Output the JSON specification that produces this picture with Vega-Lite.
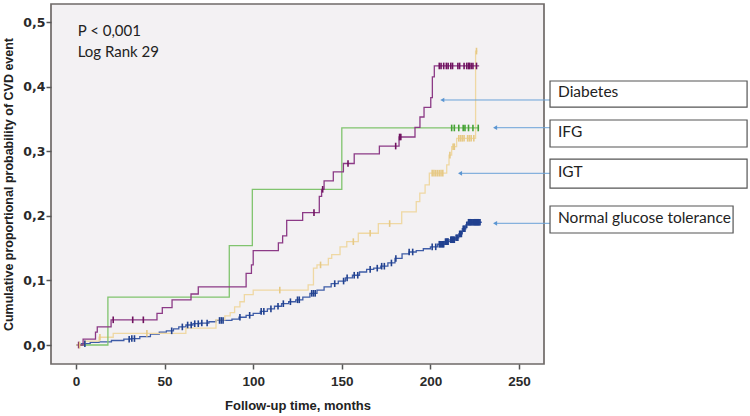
{
  "$schema": "https://vega.github.io/schema/vega-lite/v6.json",
  "width": 493,
  "height": 360,
  "autosize": {"type": "none"},
  "padding": {"left": 51, "top": 4, "right": 206, "bottom": 52},
  "background": "#ffffff",
  "config": {
    "view": {"stroke": "#6f6a68", "strokeWidth": 1.7, "fill": "#f3f1f3"},
    "axis": {"grid": false, "domain": false, "tickColor": "#555", "tickWidth": 1.5, "labelColor": "#2a2a2a", "titleColor": "#222"}
  },
  "datasets": {
    "curves": [
      {"group": "Normal glucose tolerance", "t": 0, "p": 0},
      {"group": "Normal glucose tolerance", "t": 3, "p": 0.002},
      {"group": "Normal glucose tolerance", "t": 8, "p": 0.004},
      {"group": "Normal glucose tolerance", "t": 13, "p": 0.005},
      {"group": "Normal glucose tolerance", "t": 20, "p": 0.007},
      {"group": "Normal glucose tolerance", "t": 27, "p": 0.009},
      {"group": "Normal glucose tolerance", "t": 31, "p": 0.010},
      {"group": "Normal glucose tolerance", "t": 36, "p": 0.013},
      {"group": "Normal glucose tolerance", "t": 42, "p": 0.017},
      {"group": "Normal glucose tolerance", "t": 47, "p": 0.020},
      {"group": "Normal glucose tolerance", "t": 51, "p": 0.022},
      {"group": "Normal glucose tolerance", "t": 55, "p": 0.025},
      {"group": "Normal glucose tolerance", "t": 58, "p": 0.028},
      {"group": "Normal glucose tolerance", "t": 62, "p": 0.031},
      {"group": "Normal glucose tolerance", "t": 66, "p": 0.033},
      {"group": "Normal glucose tolerance", "t": 70, "p": 0.034},
      {"group": "Normal glucose tolerance", "t": 75, "p": 0.036},
      {"group": "Normal glucose tolerance", "t": 79, "p": 0.038},
      {"group": "Normal glucose tolerance", "t": 88, "p": 0.040},
      {"group": "Normal glucose tolerance", "t": 92, "p": 0.043},
      {"group": "Normal glucose tolerance", "t": 96, "p": 0.046},
      {"group": "Normal glucose tolerance", "t": 100, "p": 0.049},
      {"group": "Normal glucose tolerance", "t": 104, "p": 0.052},
      {"group": "Normal glucose tolerance", "t": 108, "p": 0.056},
      {"group": "Normal glucose tolerance", "t": 112, "p": 0.060},
      {"group": "Normal glucose tolerance", "t": 116, "p": 0.064},
      {"group": "Normal glucose tolerance", "t": 120, "p": 0.067},
      {"group": "Normal glucose tolerance", "t": 124, "p": 0.070},
      {"group": "Normal glucose tolerance", "t": 128, "p": 0.074},
      {"group": "Normal glucose tolerance", "t": 132, "p": 0.080},
      {"group": "Normal glucose tolerance", "t": 136, "p": 0.085},
      {"group": "Normal glucose tolerance", "t": 140, "p": 0.090},
      {"group": "Normal glucose tolerance", "t": 144, "p": 0.095},
      {"group": "Normal glucose tolerance", "t": 148, "p": 0.099},
      {"group": "Normal glucose tolerance", "t": 152, "p": 0.104},
      {"group": "Normal glucose tolerance", "t": 156, "p": 0.108},
      {"group": "Normal glucose tolerance", "t": 160, "p": 0.113},
      {"group": "Normal glucose tolerance", "t": 164, "p": 0.117},
      {"group": "Normal glucose tolerance", "t": 168, "p": 0.119},
      {"group": "Normal glucose tolerance", "t": 172, "p": 0.122},
      {"group": "Normal glucose tolerance", "t": 176, "p": 0.127},
      {"group": "Normal glucose tolerance", "t": 180, "p": 0.134},
      {"group": "Normal glucose tolerance", "t": 184, "p": 0.141},
      {"group": "Normal glucose tolerance", "t": 188, "p": 0.144},
      {"group": "Normal glucose tolerance", "t": 192, "p": 0.146},
      {"group": "Normal glucose tolerance", "t": 196, "p": 0.149},
      {"group": "Normal glucose tolerance", "t": 200, "p": 0.152},
      {"group": "Normal glucose tolerance", "t": 204, "p": 0.156},
      {"group": "Normal glucose tolerance", "t": 208, "p": 0.160},
      {"group": "Normal glucose tolerance", "t": 211, "p": 0.163},
      {"group": "Normal glucose tolerance", "t": 214, "p": 0.166},
      {"group": "Normal glucose tolerance", "t": 216, "p": 0.172},
      {"group": "Normal glucose tolerance", "t": 218, "p": 0.180},
      {"group": "Normal glucose tolerance", "t": 220, "p": 0.186},
      {"group": "Normal glucose tolerance", "t": 221, "p": 0.190},
      {"group": "Normal glucose tolerance", "t": 229, "p": 0.190},
      {"group": "IGT", "t": 0, "p": 0},
      {"group": "IGT", "t": 5, "p": 0.006},
      {"group": "IGT", "t": 13, "p": 0.012},
      {"group": "IGT", "t": 21, "p": 0.018},
      {"group": "IGT", "t": 62, "p": 0.026},
      {"group": "IGT", "t": 79, "p": 0.039},
      {"group": "IGT", "t": 84, "p": 0.045},
      {"group": "IGT", "t": 87, "p": 0.050},
      {"group": "IGT", "t": 89.5, "p": 0.059},
      {"group": "IGT", "t": 92.5, "p": 0.067},
      {"group": "IGT", "t": 95, "p": 0.078},
      {"group": "IGT", "t": 100, "p": 0.085},
      {"group": "IGT", "t": 131, "p": 0.093},
      {"group": "IGT", "t": 134, "p": 0.119},
      {"group": "IGT", "t": 136, "p": 0.124},
      {"group": "IGT", "t": 142.4, "p": 0.134},
      {"group": "IGT", "t": 144.3, "p": 0.140},
      {"group": "IGT", "t": 149, "p": 0.152},
      {"group": "IGT", "t": 152.8, "p": 0.160},
      {"group": "IGT", "t": 159.3, "p": 0.173},
      {"group": "IGT", "t": 170.6, "p": 0.188},
      {"group": "IGT", "t": 183.8, "p": 0.206},
      {"group": "IGT", "t": 192, "p": 0.222},
      {"group": "IGT", "t": 194, "p": 0.235},
      {"group": "IGT", "t": 197, "p": 0.248},
      {"group": "IGT", "t": 199.4, "p": 0.266},
      {"group": "IGT", "t": 209.2, "p": 0.279},
      {"group": "IGT", "t": 210.5, "p": 0.294},
      {"group": "IGT", "t": 212, "p": 0.307},
      {"group": "IGT", "t": 214.8, "p": 0.320},
      {"group": "IGT", "t": 225.5, "p": 0.455},
      {"group": "IGT", "t": 226.5, "p": 0.455},
      {"group": "IFG", "t": 2, "p": 0},
      {"group": "IFG", "t": 18, "p": 0.074},
      {"group": "IFG", "t": 86.5, "p": 0.154},
      {"group": "IFG", "t": 99.5, "p": 0.241},
      {"group": "IFG", "t": 150, "p": 0.336},
      {"group": "IFG", "t": 227.5, "p": 0.336},
      {"group": "Diabetes", "t": 1, "p": 0},
      {"group": "Diabetes", "t": 4, "p": 0.009},
      {"group": "Diabetes", "t": 11, "p": 0.020},
      {"group": "Diabetes", "t": 12, "p": 0.028},
      {"group": "Diabetes", "t": 19.8, "p": 0.039},
      {"group": "Diabetes", "t": 45.7, "p": 0.049},
      {"group": "Diabetes", "t": 48.7, "p": 0.058},
      {"group": "Diabetes", "t": 54.2, "p": 0.070},
      {"group": "Diabetes", "t": 64.9, "p": 0.079},
      {"group": "Diabetes", "t": 69, "p": 0.090},
      {"group": "Diabetes", "t": 96, "p": 0.111},
      {"group": "Diabetes", "t": 99, "p": 0.124},
      {"group": "Diabetes", "t": 100, "p": 0.146},
      {"group": "Diabetes", "t": 114.2, "p": 0.158},
      {"group": "Diabetes", "t": 116.6, "p": 0.169},
      {"group": "Diabetes", "t": 118.9, "p": 0.193},
      {"group": "Diabetes", "t": 127.9, "p": 0.205},
      {"group": "Diabetes", "t": 137.3, "p": 0.230},
      {"group": "Diabetes", "t": 138.6, "p": 0.241},
      {"group": "Diabetes", "t": 140, "p": 0.254},
      {"group": "Diabetes", "t": 145.2, "p": 0.268},
      {"group": "Diabetes", "t": 150.9, "p": 0.281},
      {"group": "Diabetes", "t": 157, "p": 0.296},
      {"group": "Diabetes", "t": 171.2, "p": 0.308},
      {"group": "Diabetes", "t": 182.3, "p": 0.322},
      {"group": "Diabetes", "t": 191.3, "p": 0.337},
      {"group": "Diabetes", "t": 194.1, "p": 0.353},
      {"group": "Diabetes", "t": 196.4, "p": 0.368},
      {"group": "Diabetes", "t": 200.2, "p": 0.383},
      {"group": "Diabetes", "t": 201.1, "p": 0.415},
      {"group": "Diabetes", "t": 202.2, "p": 0.432},
      {"group": "Diabetes", "t": 227.5, "p": 0.432}
    ],
    "censor": [
      {"group": "Diabetes", "t": 1.5, "p": 0},
      {"group": "Diabetes", "t": 21, "p": 0.039},
      {"group": "Diabetes", "t": 32, "p": 0.039},
      {"group": "Diabetes", "t": 38, "p": 0.039},
      {"group": "Diabetes", "t": 134.3, "p": 0.205},
      {"group": "Diabetes", "t": 139.2, "p": 0.241},
      {"group": "Diabetes", "t": 153.5, "p": 0.281},
      {"group": "Diabetes", "t": 180.4, "p": 0.308},
      {"group": "Diabetes", "t": 182.6, "p": 0.322},
      {"group": "Diabetes", "t": 183.3, "p": 0.322},
      {"group": "Diabetes", "t": 205, "p": 0.432},
      {"group": "Diabetes", "t": 206, "p": 0.432},
      {"group": "Diabetes", "t": 207.5, "p": 0.432},
      {"group": "Diabetes", "t": 209, "p": 0.432},
      {"group": "Diabetes", "t": 210, "p": 0.432},
      {"group": "Diabetes", "t": 211.5, "p": 0.432},
      {"group": "Diabetes", "t": 212.5, "p": 0.432},
      {"group": "Diabetes", "t": 215.5, "p": 0.432},
      {"group": "Diabetes", "t": 216.5, "p": 0.432},
      {"group": "Diabetes", "t": 219, "p": 0.432},
      {"group": "Diabetes", "t": 220.5, "p": 0.432},
      {"group": "Diabetes", "t": 221.5, "p": 0.432},
      {"group": "Diabetes", "t": 222, "p": 0.432},
      {"group": "Diabetes", "t": 223, "p": 0.432},
      {"group": "Diabetes", "t": 224, "p": 0.432},
      {"group": "Diabetes", "t": 226, "p": 0.432},
      {"group": "IFG", "t": 212, "p": 0.336},
      {"group": "IFG", "t": 213.5, "p": 0.336},
      {"group": "IFG", "t": 216, "p": 0.336},
      {"group": "IFG", "t": 218.5, "p": 0.336},
      {"group": "IFG", "t": 219.5, "p": 0.336},
      {"group": "IFG", "t": 221.5, "p": 0.336},
      {"group": "IFG", "t": 224, "p": 0.336},
      {"group": "IFG", "t": 227, "p": 0.336},
      {"group": "IGT", "t": 2, "p": 0},
      {"group": "IGT", "t": 13.5, "p": 0.012},
      {"group": "IGT", "t": 40, "p": 0.018},
      {"group": "IGT", "t": 115, "p": 0.085},
      {"group": "IGT", "t": 138, "p": 0.124},
      {"group": "IGT", "t": 156.5, "p": 0.160},
      {"group": "IGT", "t": 166, "p": 0.173},
      {"group": "IGT", "t": 177, "p": 0.188},
      {"group": "IGT", "t": 201, "p": 0.266},
      {"group": "IGT", "t": 202, "p": 0.266},
      {"group": "IGT", "t": 203, "p": 0.266},
      {"group": "IGT", "t": 204, "p": 0.266},
      {"group": "IGT", "t": 205, "p": 0.266},
      {"group": "IGT", "t": 206, "p": 0.266},
      {"group": "IGT", "t": 207, "p": 0.266},
      {"group": "IGT", "t": 211, "p": 0.294},
      {"group": "IGT", "t": 212.8, "p": 0.307},
      {"group": "IGT", "t": 213.5, "p": 0.307},
      {"group": "IGT", "t": 216, "p": 0.320},
      {"group": "IGT", "t": 217, "p": 0.320},
      {"group": "IGT", "t": 218, "p": 0.320},
      {"group": "IGT", "t": 219, "p": 0.320},
      {"group": "IGT", "t": 221, "p": 0.320},
      {"group": "IGT", "t": 222, "p": 0.320},
      {"group": "IGT", "t": 223, "p": 0.320},
      {"group": "IGT", "t": 224.5, "p": 0.320},
      {"group": "IGT", "t": 226, "p": 0.455},
      {"group": "Normal glucose tolerance", "t": 5, "p": 0.002},
      {"group": "Normal glucose tolerance", "t": 30, "p": 0.009},
      {"group": "Normal glucose tolerance", "t": 31.5, "p": 0.010},
      {"group": "Normal glucose tolerance", "t": 33, "p": 0.010},
      {"group": "Normal glucose tolerance", "t": 54, "p": 0.022},
      {"group": "Normal glucose tolerance", "t": 60, "p": 0.028},
      {"group": "Normal glucose tolerance", "t": 63, "p": 0.031},
      {"group": "Normal glucose tolerance", "t": 65, "p": 0.031},
      {"group": "Normal glucose tolerance", "t": 67, "p": 0.033},
      {"group": "Normal glucose tolerance", "t": 69, "p": 0.033},
      {"group": "Normal glucose tolerance", "t": 71, "p": 0.034},
      {"group": "Normal glucose tolerance", "t": 74, "p": 0.034},
      {"group": "Normal glucose tolerance", "t": 81, "p": 0.038},
      {"group": "Normal glucose tolerance", "t": 82, "p": 0.038},
      {"group": "Normal glucose tolerance", "t": 83, "p": 0.038},
      {"group": "Normal glucose tolerance", "t": 92.5, "p": 0.043},
      {"group": "Normal glucose tolerance", "t": 98, "p": 0.046},
      {"group": "Normal glucose tolerance", "t": 104.5, "p": 0.052},
      {"group": "Normal glucose tolerance", "t": 106, "p": 0.052},
      {"group": "Normal glucose tolerance", "t": 110, "p": 0.056},
      {"group": "Normal glucose tolerance", "t": 114, "p": 0.060},
      {"group": "Normal glucose tolerance", "t": 117, "p": 0.064},
      {"group": "Normal glucose tolerance", "t": 121, "p": 0.067},
      {"group": "Normal glucose tolerance", "t": 125, "p": 0.070},
      {"group": "Normal glucose tolerance", "t": 126, "p": 0.070},
      {"group": "Normal glucose tolerance", "t": 133, "p": 0.080},
      {"group": "Normal glucose tolerance", "t": 134, "p": 0.080},
      {"group": "Normal glucose tolerance", "t": 135, "p": 0.080},
      {"group": "Normal glucose tolerance", "t": 146, "p": 0.095},
      {"group": "Normal glucose tolerance", "t": 151, "p": 0.099},
      {"group": "Normal glucose tolerance", "t": 153, "p": 0.104},
      {"group": "Normal glucose tolerance", "t": 157, "p": 0.108},
      {"group": "Normal glucose tolerance", "t": 159, "p": 0.108},
      {"group": "Normal glucose tolerance", "t": 166, "p": 0.117},
      {"group": "Normal glucose tolerance", "t": 170, "p": 0.119},
      {"group": "Normal glucose tolerance", "t": 172.5, "p": 0.122},
      {"group": "Normal glucose tolerance", "t": 174, "p": 0.122},
      {"group": "Normal glucose tolerance", "t": 178, "p": 0.127},
      {"group": "Normal glucose tolerance", "t": 180.5, "p": 0.134},
      {"group": "Normal glucose tolerance", "t": 188, "p": 0.144},
      {"group": "Normal glucose tolerance", "t": 190, "p": 0.144},
      {"group": "Normal glucose tolerance", "t": 201, "p": 0.152},
      {"group": "Normal glucose tolerance", "t": 203, "p": 0.152},
      {"group": "Normal glucose tolerance", "t": 205, "p": 0.156},
      {"group": "Normal glucose tolerance", "t": 205.5, "p": 0.156},
      {"group": "Normal glucose tolerance", "t": 206, "p": 0.156},
      {"group": "Normal glucose tolerance", "t": 206.5, "p": 0.156},
      {"group": "Normal glucose tolerance", "t": 207, "p": 0.156},
      {"group": "Normal glucose tolerance", "t": 207.5, "p": 0.156},
      {"group": "Normal glucose tolerance", "t": 208.5, "p": 0.160},
      {"group": "Normal glucose tolerance", "t": 209, "p": 0.160},
      {"group": "Normal glucose tolerance", "t": 209.5, "p": 0.160},
      {"group": "Normal glucose tolerance", "t": 210, "p": 0.160},
      {"group": "Normal glucose tolerance", "t": 211.5, "p": 0.163},
      {"group": "Normal glucose tolerance", "t": 212, "p": 0.163},
      {"group": "Normal glucose tolerance", "t": 212.5, "p": 0.163},
      {"group": "Normal glucose tolerance", "t": 213, "p": 0.163},
      {"group": "Normal glucose tolerance", "t": 213.5, "p": 0.163},
      {"group": "Normal glucose tolerance", "t": 214.5, "p": 0.166},
      {"group": "Normal glucose tolerance", "t": 215, "p": 0.166},
      {"group": "Normal glucose tolerance", "t": 215.5, "p": 0.166},
      {"group": "Normal glucose tolerance", "t": 216.5, "p": 0.172},
      {"group": "Normal glucose tolerance", "t": 217, "p": 0.172},
      {"group": "Normal glucose tolerance", "t": 217.5, "p": 0.172},
      {"group": "Normal glucose tolerance", "t": 218.5, "p": 0.180},
      {"group": "Normal glucose tolerance", "t": 219, "p": 0.180},
      {"group": "Normal glucose tolerance", "t": 219.5, "p": 0.180},
      {"group": "Normal glucose tolerance", "t": 220.5, "p": 0.186},
      {"group": "Normal glucose tolerance", "t": 221.5, "p": 0.190},
      {"group": "Normal glucose tolerance", "t": 222, "p": 0.190},
      {"group": "Normal glucose tolerance", "t": 222.5, "p": 0.190},
      {"group": "Normal glucose tolerance", "t": 223, "p": 0.190},
      {"group": "Normal glucose tolerance", "t": 223.5, "p": 0.190},
      {"group": "Normal glucose tolerance", "t": 224, "p": 0.190},
      {"group": "Normal glucose tolerance", "t": 224.5, "p": 0.190},
      {"group": "Normal glucose tolerance", "t": 225, "p": 0.190},
      {"group": "Normal glucose tolerance", "t": 225.5, "p": 0.190},
      {"group": "Normal glucose tolerance", "t": 226, "p": 0.190},
      {"group": "Normal glucose tolerance", "t": 226.5, "p": 0.190},
      {"group": "Normal glucose tolerance", "t": 227, "p": 0.190},
      {"group": "Normal glucose tolerance", "t": 227.5, "p": 0.190},
      {"group": "Normal glucose tolerance", "t": 228, "p": 0.190}
    ],
    "boxes": [
      {"label": "Diabetes", "x1": 267.5, "x2": 378.7, "y1": 0.4087, "y2": 0.3684, "ty": 0.3834, "head": 206.7, "ay": 0.3793},
      {"label": "IFG", "x1": 267.5, "x2": 378.7, "y1": 0.3483, "y2": 0.3065, "ty": 0.3215, "head": 236.5, "ay": 0.3364},
      {"label": "IGT", "x1": 267.5, "x2": 378.7, "y1": 0.2879, "y2": 0.2430, "ty": 0.2596, "head": 216.7, "ay": 0.2658},
      {"label": "Normal glucose tolerance", "x1": 267.5, "x2": 370.8, "y1": 0.2152, "y2": 0.1734, "ty": 0.1896, "head": 236.5, "ay": 0.1884}
    ],
    "notes": [
      {"text": "P < 0,001", "t": 0.96, "p": 0.4776},
      {"text": "Log Rank 29", "t": 0.96, "p": 0.4463}
    ]
  },
  "layer": [
    {
      "data": {"name": "curves"},
      "transform": [{"filter": "datum.group !== 'Diabetes'"}],
      "mark": {"type": "line", "interpolate": "step-after", "strokeWidth": 1.3},
      "encoding": {
        "x": {"field": "t", "type": "quantitative", "scale": {"domain": [-14.11, 264.1], "nice": false, "zero": false},
          "axis": {"values": [0, 50, 100, 150, 200, 250], "tickSize": 5, "labelPadding": 5, "labelFont": "Liberation Sans", "labelFontWeight": "bold", "labelFontSize": 13.5,
            "title": "Follow-up time, months", "titleFont": "Liberation Sans", "titleFontWeight": "bold", "titleFontSize": 13, "titleX": 246.5, "titleY": 45, "titleBaseline": "alphabetic", "titleAlign": "center"}},
        "y": {"field": "p", "type": "quantitative", "scale": {"domain": [-0.0294, 0.5279], "nice": false, "zero": false},
          "axis": {"values": [0, 0.1, 0.2, 0.3, 0.4, 0.5], "labelExpr": "replace(format(datum.value, '.1f'), '.', ',')", "tickSize": 5, "labelPadding": 1, "labelFont": "DejaVu Sans", "labelFontWeight": "bold", "labelFontSize": 12.5,
            "title": "Cumulative proportional probability of CVD event", "titleFont": "Liberation Sans", "titleFontWeight": "bold", "titleFontSize": 12.5, "titleX": -43, "titleY": 180, "titleAlign": "center", "titleBaseline": "middle", "titleAngle": 270}},
        "color": {"field": "group", "type": "nominal", "legend": null,
          "scale": {"domain": ["Diabetes", "IFG", "IGT", "Normal glucose tolerance"], "range": ["#8c3a86", "#80c46e", "#efd8a3", "#3e5ca7"]}},
        "detail": {"field": "group"}
      }
    },
    {
      "data": {"name": "curves"},
      "transform": [{"filter": "datum.group === 'Diabetes'"}],
      "mark": {"type": "line", "interpolate": "step-after", "strokeWidth": 1.3, "color": "#8c3a86"},
      "encoding": {
        "x": {"field": "t", "type": "quantitative"},
        "y": {"field": "p", "type": "quantitative"}
      }
    },
    {
      "data": {"name": "censor"},
      "mark": {"type": "point", "shape": "M0,-1V1", "size": 44, "strokeWidth": 1.6, "filled": false, "opacity": 1},
      "encoding": {
        "x": {"field": "t", "type": "quantitative"},
        "y": {"field": "p", "type": "quantitative"},
        "stroke": {"field": "group", "type": "nominal", "legend": null,
          "scale": {"domain": ["Diabetes", "IFG", "IGT", "Normal glucose tolerance"], "range": ["#70125f", "#45a235", "#e6c985", "#21418f"]}}
      }
    },
    {
      "data": {"name": "boxes"},
      "mark": {"type": "rule", "color": "#6aa2d8", "strokeWidth": 1},
      "encoding": {
        "x": {"field": "head", "type": "quantitative"},
        "x2": {"field": "x1"},
        "y": {"field": "ay", "type": "quantitative"}
      }
    },
    {
      "data": {"name": "boxes"},
      "mark": {"type": "point", "shape": "triangle-left", "filled": true, "size": 22, "color": "#5b96d2", "opacity": 1},
      "encoding": {
        "x": {"field": "head", "type": "quantitative"},
        "y": {"field": "ay", "type": "quantitative"}
      }
    },
    {
      "data": {"name": "boxes"},
      "mark": {"type": "rect", "fill": "#ffffff", "stroke": "#555555", "strokeWidth": 1.2},
      "encoding": {
        "x": {"field": "x1", "type": "quantitative"},
        "x2": {"field": "x2"},
        "y": {"field": "y1", "type": "quantitative"},
        "y2": {"field": "y2"}
      }
    },
    {
      "data": {"name": "boxes"},
      "mark": {"type": "text", "align": "left", "baseline": "alphabetic", "font": "Lato", "fontSize": 15.5, "color": "#222222"},
      "encoding": {
        "x": {"datum": 272},
        "y": {"field": "ty", "type": "quantitative"},
        "text": {"field": "label"}
      }
    },
    {
      "data": {"name": "notes"},
      "mark": {"type": "text", "align": "left", "baseline": "alphabetic", "font": "Lato", "fontSize": 15, "color": "#222222"},
      "encoding": {
        "x": {"field": "t", "type": "quantitative"},
        "y": {"field": "p", "type": "quantitative"},
        "text": {"field": "text"}
      }
    }
  ]
}
